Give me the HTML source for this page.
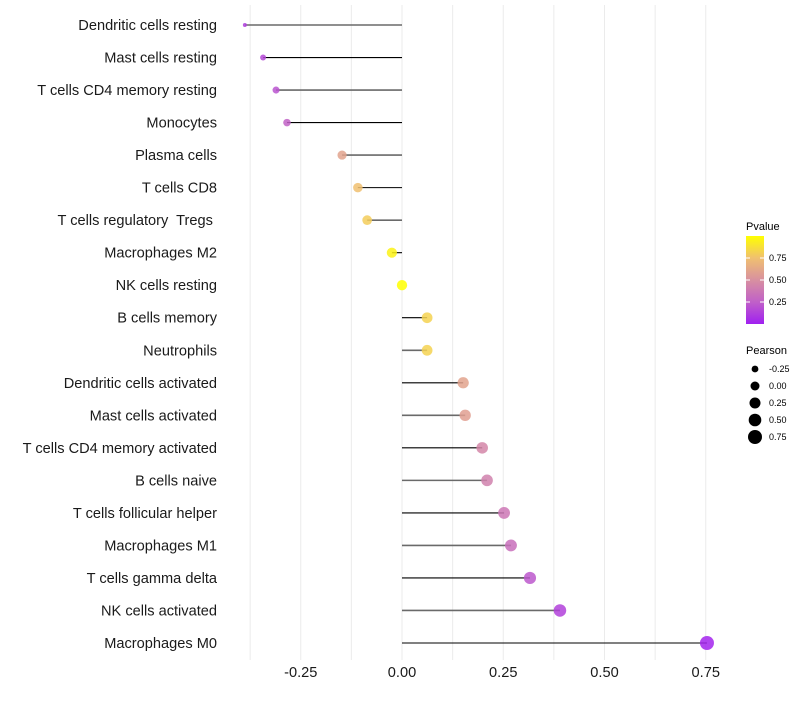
<!DOCTYPE html>
<html><head><meta charset="utf-8"><style>
body{margin:0;background:#fff;font-family:"Liberation Sans",sans-serif;}
text{white-space:pre;}
</style></head><body>
<svg id="c" width="800" height="700" xmlns="http://www.w3.org/2000/svg" font-family="Liberation Sans, sans-serif">
<defs><linearGradient id="pg" x1="0" y1="1" x2="0" y2="0">
<stop offset="0" stop-color="#A020F0"/><stop offset="0.25" stop-color="#C060C8"/><stop offset="0.5" stop-color="#D890A0"/><stop offset="0.75" stop-color="#F0C070"/><stop offset="1" stop-color="#FFFF00"/></linearGradient></defs>
<g id="grid"></g><g id="marks"></g><g id="ylab"></g><g id="xlab"></g>
<g>
<text x="746" y="230" font-size="11">Pvalue</text>
<rect x="746" y="236" width="18" height="88" fill="url(#pg)"/>
<g id="pleg"></g></g>
<g>
<text x="746" y="354" font-size="11">Pearson</text><g id="sleg"></g></g>
</svg>
<script>
const categories=["Dendritic cells resting","Mast cells resting","T cells CD4 memory resting","Monocytes","Plasma cells","T cells CD8","T cells regulatory  Tregs ","Macrophages M2","NK cells resting","B cells memory","Neutrophils","Dendritic cells activated","Mast cells activated","T cells CD4 memory activated","B cells naive","T cells follicular helper","Macrophages M1","T cells gamma delta","NK cells activated","Macrophages M0"];
const pearson=[-0.388,-0.343,-0.311,-0.284,-0.148,-0.109,-0.086,-0.025,0.0,0.062,0.062,0.151,0.156,0.198,0.21,0.252,0.269,0.316,0.39,0.753];
const pvalues=[0.12,0.16,0.2,0.26,0.6,0.75,0.8,0.95,1.0,0.82,0.82,0.6,0.58,0.45,0.42,0.37,0.33,0.22,0.13,0.02];
const xTicks=[-0.25,0,0.25,0.5,0.75];
const xTickLabels=["-0.25","0.00","0.25","0.50","0.75"];
const sizeBreaks=[-0.25,0,0.25,0.5,0.75];
const pBreaks=[0.25,0.5,0.75];
const NS="http://www.w3.org/2000/svg";
const X=v=>402+v*405;
const Y=i=>25+i*(618/19);
function R(v){
  if(v<-0.343) return Math.max(1.5,3-(-0.343-v)/0.045);
  const t=Math.min(1,(v+0.343)/1.096);
  return Math.sqrt(9+40*Math.pow(t,0.7));
}
const stops=[[0,[160,32,240]],[0.25,[192,96,200]],[0.5,[216,144,160]],[0.75,[240,192,112]],[1,[255,255,0]]];
function col(p){for(let k=0;k<stops.length-1;k++){const a=stops[k],b=stops[k+1];if(p<=b[0]){const t=(p-a[0])/(b[0]-a[0]);return "rgb("+a[1].map((c,j)=>Math.round(c+(b[1][j]-c)*t)).join(",")+")";}}return "rgb(255,255,0)";}
function mk(t,a,parent){const e=document.createElementNS(NS,t);for(const k in a)e.setAttribute(k,a[k]);document.getElementById(parent).appendChild(e);return e;}
for(let g=-0.375;g<=0.8;g+=0.125){const l=mk("line",{x1:X(g),x2:X(g),y1:5,y2:660,stroke:"#ebebeb","stroke-width":1},"grid");

}
categories.forEach((c,i)=>{
const ln=mk("line",{x1:X(0),x2:X(pearson[i]),y1:Y(i),y2:Y(i),stroke:i%2===0?"#6a6a6a":"#000","stroke-width":i%2===0?1.6:1.1},"marks");


const pt=mk("circle",{cx:X(pearson[i]),cy:Y(i),r:R(pearson[i]),fill:col(pvalues[i]),"fill-opacity":0.85},"marks");


const t=mk("text",{x:217,y:Y(i)+5,"text-anchor":"end","font-size":14.6,fill:"#1a1a1a"},"ylab");t.textContent=c;

});
xTicks.forEach((v,i)=>{const t=mk("text",{x:X(v),y:677,"text-anchor":"middle","font-size":14.6,fill:"#1a1a1a"},"xlab");t.textContent=xTickLabels[i];

});
pBreaks.forEach(p=>{const y=324-p*88;
const tk=mk("line",{x1:746,x2:750,y1:y,y2:y,stroke:"#fff"},"pleg");
const tk2=mk("line",{x1:760,x2:764,y1:y,y2:y,stroke:"#fff"},"pleg");
const t=mk("text",{x:769,y:y+3,"font-size":9},"pleg");t.textContent=p.toFixed(2);

});
const legR=[3.4,4.5,5.5,6.3,7];
sizeBreaks.forEach((v,i)=>{const y=369+i*17;
const c=mk("circle",{cx:755,cy:y,r:legR[i],fill:"#000"},"sleg");


const t=mk("text",{x:769,y:y+3,"font-size":9},"sleg");t.textContent=v.toFixed(2);

});
</script>
</body></html>
